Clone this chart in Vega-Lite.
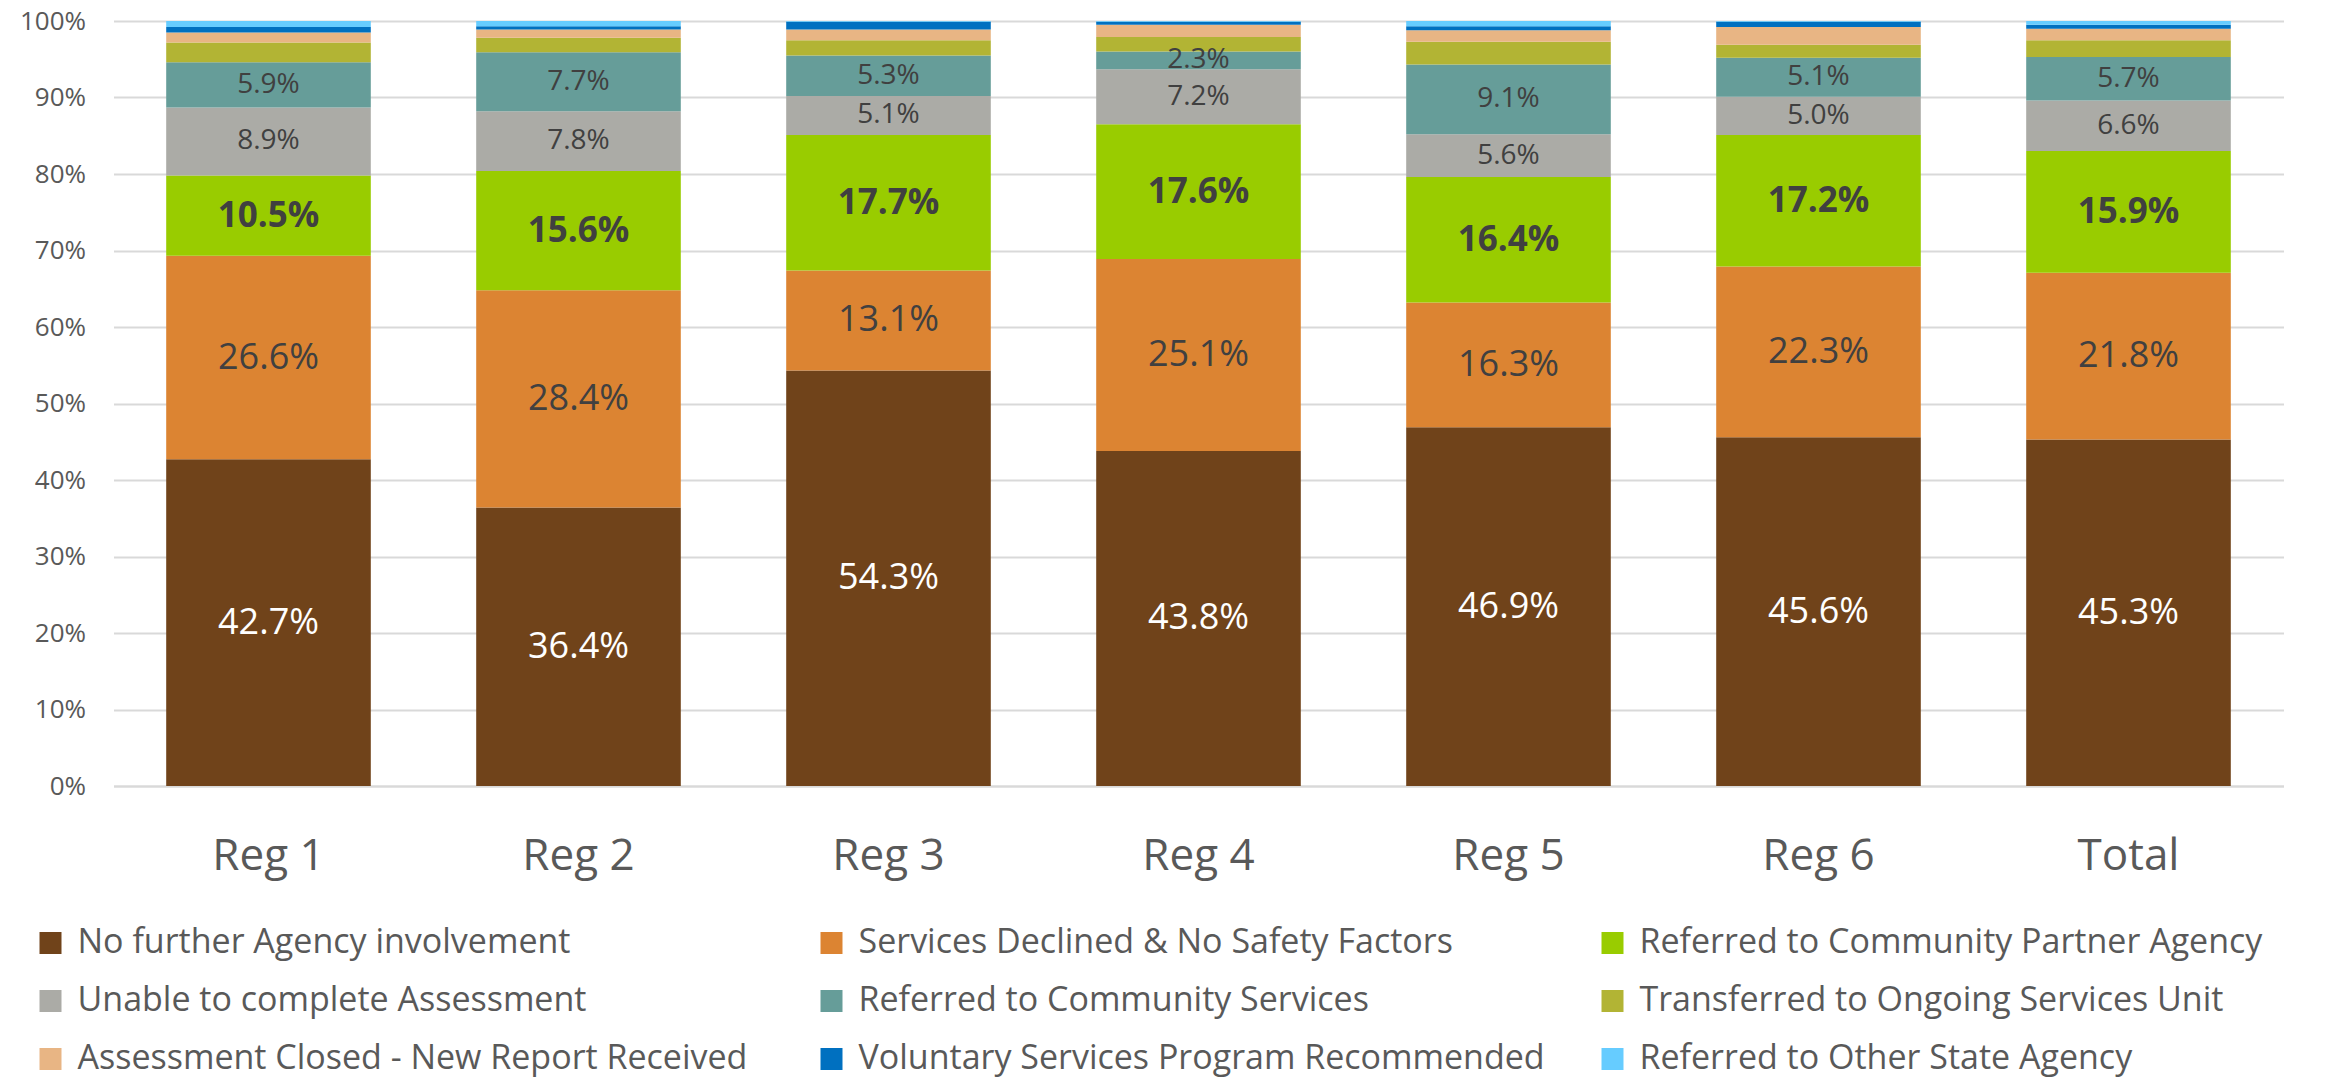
{
  "$schema": "https://vega.github.io/schema/vega-lite/v6.json",
  "width": 2170,
  "height": 765,
  "autosize": {"type": "none"},
  "padding": {"left": 113.5, "top": 21, "right": 42.5, "bottom": 295},
  "background": "white",
  "config": {"font": "Open Sans", "view": {"stroke": null}},
  "data": {"values": [
    {"region": "Reg 1", "category": "No further Agency involvement", "value": 42.7},
    {"region": "Reg 1", "category": "Services Declined & No Safety Factors", "value": 26.6},
    {"region": "Reg 1", "category": "Referred to Community Partner Agency", "value": 10.5},
    {"region": "Reg 1", "category": "Unable to complete Assessment", "value": 8.9},
    {"region": "Reg 1", "category": "Referred to Community  Services", "value": 5.9},
    {"region": "Reg 1", "category": "Transferred to Ongoing Services Unit", "value": 2.6},
    {"region": "Reg 1", "category": "Assessment Closed - New Report Received", "value": 1.3},
    {"region": "Reg 1", "category": "Voluntary Services Program Recommended", "value": 0.7},
    {"region": "Reg 1", "category": "Referred to Other State Agency", "value": 0.8},
    {"region": "Reg 2", "category": "No further Agency involvement", "value": 36.4},
    {"region": "Reg 2", "category": "Services Declined & No Safety Factors", "value": 28.4},
    {"region": "Reg 2", "category": "Referred to Community Partner Agency", "value": 15.6},
    {"region": "Reg 2", "category": "Unable to complete Assessment", "value": 7.8},
    {"region": "Reg 2", "category": "Referred to Community  Services", "value": 7.7},
    {"region": "Reg 2", "category": "Transferred to Ongoing Services Unit", "value": 1.9},
    {"region": "Reg 2", "category": "Assessment Closed - New Report Received", "value": 1.1},
    {"region": "Reg 2", "category": "Voluntary Services Program Recommended", "value": 0.4},
    {"region": "Reg 2", "category": "Referred to Other State Agency", "value": 0.7},
    {"region": "Reg 3", "category": "No further Agency involvement", "value": 54.3},
    {"region": "Reg 3", "category": "Services Declined & No Safety Factors", "value": 13.1},
    {"region": "Reg 3", "category": "Referred to Community Partner Agency", "value": 17.7},
    {"region": "Reg 3", "category": "Unable to complete Assessment", "value": 5.1},
    {"region": "Reg 3", "category": "Referred to Community  Services", "value": 5.3},
    {"region": "Reg 3", "category": "Transferred to Ongoing Services Unit", "value": 2.0},
    {"region": "Reg 3", "category": "Assessment Closed - New Report Received", "value": 1.4},
    {"region": "Reg 3", "category": "Voluntary Services Program Recommended", "value": 1.0},
    {"region": "Reg 3", "category": "Referred to Other State Agency", "value": 0.1},
    {"region": "Reg 4", "category": "No further Agency involvement", "value": 43.8},
    {"region": "Reg 4", "category": "Services Declined & No Safety Factors", "value": 25.1},
    {"region": "Reg 4", "category": "Referred to Community Partner Agency", "value": 17.6},
    {"region": "Reg 4", "category": "Unable to complete Assessment", "value": 7.2},
    {"region": "Reg 4", "category": "Referred to Community  Services", "value": 2.3},
    {"region": "Reg 4", "category": "Transferred to Ongoing Services Unit", "value": 1.9},
    {"region": "Reg 4", "category": "Assessment Closed - New Report Received", "value": 1.6},
    {"region": "Reg 4", "category": "Voluntary Services Program Recommended", "value": 0.4},
    {"region": "Reg 4", "category": "Referred to Other State Agency", "value": 0.1},
    {"region": "Reg 5", "category": "No further Agency involvement", "value": 46.9},
    {"region": "Reg 5", "category": "Services Declined & No Safety Factors", "value": 16.3},
    {"region": "Reg 5", "category": "Referred to Community Partner Agency", "value": 16.4},
    {"region": "Reg 5", "category": "Unable to complete Assessment", "value": 5.6},
    {"region": "Reg 5", "category": "Referred to Community  Services", "value": 9.1},
    {"region": "Reg 5", "category": "Transferred to Ongoing Services Unit", "value": 3.0},
    {"region": "Reg 5", "category": "Assessment Closed - New Report Received", "value": 1.5},
    {"region": "Reg 5", "category": "Voluntary Services Program Recommended", "value": 0.5},
    {"region": "Reg 5", "category": "Referred to Other State Agency", "value": 0.7},
    {"region": "Reg 6", "category": "No further Agency involvement", "value": 45.6},
    {"region": "Reg 6", "category": "Services Declined & No Safety Factors", "value": 22.3},
    {"region": "Reg 6", "category": "Referred to Community Partner Agency", "value": 17.2},
    {"region": "Reg 6", "category": "Unable to complete Assessment", "value": 5.0},
    {"region": "Reg 6", "category": "Referred to Community  Services", "value": 5.1},
    {"region": "Reg 6", "category": "Transferred to Ongoing Services Unit", "value": 1.7},
    {"region": "Reg 6", "category": "Assessment Closed - New Report Received", "value": 2.3},
    {"region": "Reg 6", "category": "Voluntary Services Program Recommended", "value": 0.7},
    {"region": "Reg 6", "category": "Referred to Other State Agency", "value": 0.1},
    {"region": "Total", "category": "No further Agency involvement", "value": 45.3},
    {"region": "Total", "category": "Services Declined & No Safety Factors", "value": 21.8},
    {"region": "Total", "category": "Referred to Community Partner Agency", "value": 15.9},
    {"region": "Total", "category": "Unable to complete Assessment", "value": 6.6},
    {"region": "Total", "category": "Referred to Community  Services", "value": 5.7},
    {"region": "Total", "category": "Transferred to Ongoing Services Unit", "value": 2.2},
    {"region": "Total", "category": "Assessment Closed - New Report Received", "value": 1.5},
    {"region": "Total", "category": "Voluntary Services Program Recommended", "value": 0.5},
    {"region": "Total", "category": "Referred to Other State Agency", "value": 0.5}
  ]},
  "transform": [
    {"calculate": "indexof(['No further Agency involvement','Services Declined & No Safety Factors','Referred to Community Partner Agency','Unable to complete Assessment','Referred to Community  Services','Transferred to Ongoing Services Unit','Assessment Closed - New Report Received','Voluntary Services Program Recommended','Referred to Other State Agency'], datum.category)", "as": "ord"},
    {"stack": "value", "groupby": ["region"], "sort": [{"field": "ord", "order": "ascending"}], "as": ["y0", "y1"]},
    {"calculate": "(datum.y0 + datum.y1) / 2", "as": "ymid"},
    {"calculate": "format(datum.value, '.1f') + '%'", "as": "label"}
  ],
  "encoding": {
    "x": {
      "field": "region", "type": "nominal", "sort": null,
      "scale": {"paddingInner": 0.34, "paddingOuter": 0.17},
      "axis": {"title": null, "labelAngle": 0, "labelFontSize": 44, "labelColor": "#595959", "labelPadding": 48, "ticks": false, "domain": true, "domainColor": "#D9D9D9", "domainWidth": 2, "grid": false}
    }
  },
  "layer": [
    {
      "mark": {"type": "bar"},
      "encoding": {
        "y": {"field": "y0", "type": "quantitative", "scale": {"domain": [0, 100], "nice": false},
          "axis": {"title": null, "values": [0,10,20,30,40,50,60,70,80,90,100], "labelExpr": "datum.value + '%'", "labelFontSize": 26, "labelColor": "#595959", "labelPadding": 28, "ticks": false, "domain": false, "grid": true, "gridColor": "#D9D9D9", "gridWidth": 2}},
        "y2": {"field": "y1"},
        "color": {
          "field": "category", "type": "nominal",
          "scale": {
            "domain": ["No further Agency involvement","Unable to complete Assessment","Assessment Closed - New Report Received","Services Declined & No Safety Factors","Referred to Community  Services","Voluntary Services Program Recommended","Referred to Community Partner Agency","Transferred to Ongoing Services Unit","Referred to Other State Agency"],
            "range": ["#70431A","#ABABA6","#E8B584","#DC8432","#669D99","#0070C0","#99CC00","#B2B434","#66CCFF"]
          },
          "legend": {
            "title": null, "orient": "none", "legendX": -80, "legendY": 905,
            "columns": 3, "gridAlign": "all", "columnPadding": 50, "rowPadding": 24,
            "symbolType": "square", "symbolSize": 484, "symbolStrokeWidth": 0, "symbolOpacity": 1,
            "labelFontSize": 34, "labelColor": "#595959", "labelLimit": 900, "labelOffset": 10
          }
        }
      }
    },
    {
      "transform": [{"filter": "datum.ord == 0"}],
      "mark": {"type": "text", "fontSize": 36, "color": "#FFFFFF", "baseline": "middle"},
      "encoding": {"y": {"field": "ymid", "type": "quantitative"}, "text": {"field": "label"}}
    },
    {
      "transform": [{"filter": "datum.ord == 1"}],
      "mark": {"type": "text", "fontSize": 36, "color": "#404040", "baseline": "middle"},
      "encoding": {"y": {"field": "ymid", "type": "quantitative"}, "text": {"field": "label"}}
    },
    {
      "transform": [{"filter": "datum.ord == 2"}],
      "mark": {"type": "text", "fontSize": 35, "fontWeight": "bold", "color": "#404040", "baseline": "middle"},
      "encoding": {"y": {"field": "ymid", "type": "quantitative"}, "text": {"field": "label"}}
    },
    {
      "transform": [{"filter": "datum.ord == 3 || datum.ord == 4"}],
      "mark": {"type": "text", "fontSize": 28, "color": "#404040", "baseline": "middle"},
      "encoding": {"y": {"field": "ymid", "type": "quantitative"}, "text": {"field": "label"}}
    }
  ]
}
